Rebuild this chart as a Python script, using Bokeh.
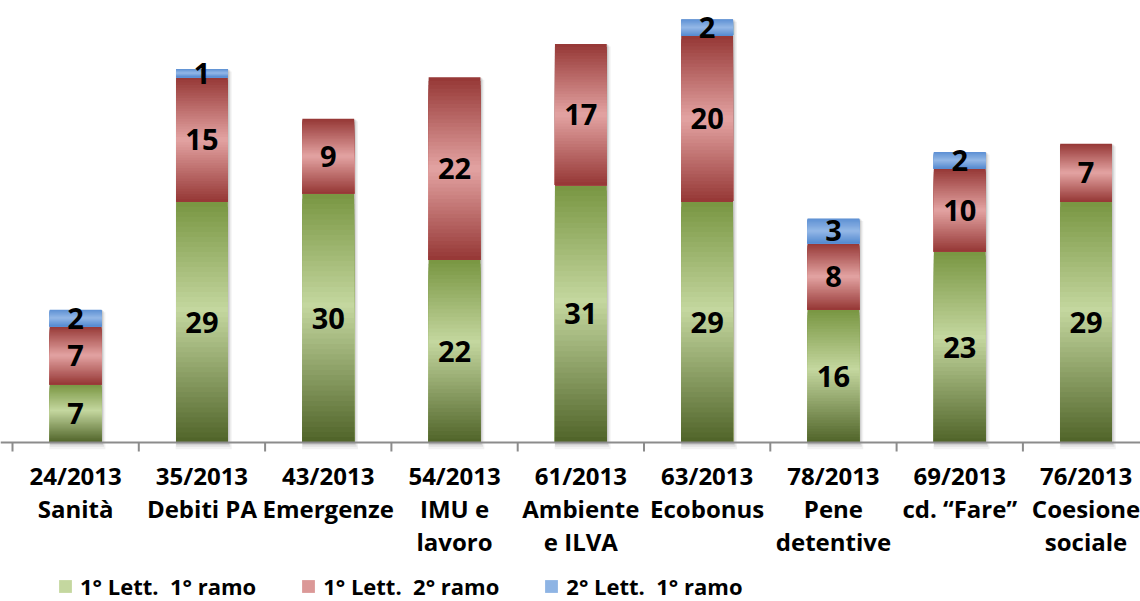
from bokeh.plotting import figure
from bokeh.models import Range1d, Legend, LegendItem
from bokeh.core.properties import value
from bokeh.embed import file_html
from bokeh.resources import INLINE

categories = ["24/2013\nSanità", "35/2013\nDebiti PA", "43/2013\nEmergenze",
              "54/2013\nIMU e\nlavoro", "61/2013\nAmbiente\ne ILVA", "63/2013\nEcobonus",
              "78/2013\nPene\ndetentive", "69/2013\ncd. \u201cFare\u201d", "76/2013\nCoesione\nsociale"]
lett1_ramo1 = [7, 29, 30, 22, 31, 29, 16, 23, 29]
lett1_ramo2 = [7, 15, 9, 22, 17, 20, 8, 10, 7]
lett2_ramo1 = [2, 1, 0, 0, 0, 2, 3, 2, 0]
series_names = ["1° Lett.  1° ramo", "1° Lett.  2° ramo", "2° Lett.  1° ramo"]

FONT = "Open Sans"
W, H = 1140, 601
PX_PER_UNIT = 8.3
AXIS_PX = 442   # distance from frame top to baseline
CAT_PX = 126.3
LEFT_OFF = 12

def hex2rgb(h):
    h = h.lstrip("#")
    return tuple(int(h[i:i + 2], 16) for i in (0, 2, 4))

def rgb2hex(c):
    return "#%02x%02x%02x" % tuple(int(round(v)) for v in c)

def grad(stops, t):
    for (t0, c0), (t1, c1) in zip(stops[:-1], stops[1:]):
        if t0 <= t <= t1:
            f = (t - t0) / (t1 - t0) if t1 > t0 else 0
            a, b = hex2rgb(c0), hex2rgb(c1)
            return rgb2hex([a[i] + (b[i] - a[i]) * f for i in range(3)])
    return stops[-1][1]

# gradient stops from top (0) to bottom (1) of each segment
styles = [
    [(0.0, "#789541"), (0.45, "#c4d79f"), (1.0, "#4f6328")],
    [(0.0, "#953735"), (0.5, "#e3a3a2"), (1.0, "#953735")],
    [(0.0, "#5c8fd3"), (0.5, "#94b8e6"), (1.0, "#5589d0")],
]

n = len(categories)
ymax = AXIS_PX / PX_PER_UNIT
ymin = -(H - AXIS_PX) / PX_PER_UNIT
xmin = -LEFT_OFF / CAT_PX
xmax = xmin + W / CAT_PX

p = figure(width=W, height=H, output_backend="svg", toolbar_location=None,
           x_range=Range1d(xmin, xmax), y_range=Range1d(ymin, ymax),
           min_border=0, outline_line_color=None)
p.axis.visible = False
p.grid.visible = False
p.background_fill_color = "white"
p.border_fill_color = "white"

xs = [i + 0.5 for i in range(n)]
bw = 0.41

series = [lett1_ramo1, lett1_ramo2, lett2_ramo1]
tot = [a + b + c for a, b, c in zip(*series)]

# soft shadows behind bars
for dx, dw, db, dt, al in [(0.014, 0.034, -0.8, -0.3, 0.05), (0.010, 0.020, -0.5, -0.15, 0.07),
                           (0.006, 0.010, -0.28, -0.05, 0.10)]:
    p.vbar(x=[x + dx for x in xs], width=bw + dw, bottom=[db] * n, top=[t + dt for t in tot],
           fill_color="#000000", fill_alpha=al, line_color=None)

bottoms = [0] * n
K = 48
legend_items = []
for si, vals in enumerate(series):
    leg_r = None
    alphas = [1.0 if v > 0 else 0.0 for v in vals]
    for k in range(K):
        t = (k + 0.5) / K
        col = grad(styles[si], t)
        tops = [b + v * (1 - k / K) for b, v in zip(bottoms, vals)]
        r = p.vbar(x=xs, width=bw, bottom=bottoms, top=tops, fill_color=col,
                   fill_alpha=alphas, line_color=None)
        if k == int(K * 0.45):
            leg_r = r
    lx, ly, lt = [], [], []
    for i, v in enumerate(vals):
        if v > 0:
            lx.append(xs[i])
            ly.append(bottoms[i] + v / 2)
            lt.append(str(v))
    p.text(x=lx, y=ly, text=lt, text_font=value(FONT), text_font_style="bold",
           text_font_size="29px", text_align="center", text_baseline="middle",
           text_color="black")
    legend_items.append(LegendItem(label=series_names[si], renderers=[leg_r]))
    bottoms = [b + v for b, v in zip(bottoms, vals)]

# baseline and ticks
p.segment(x0=[xmin], y0=[0], x1=[xmax], y1=[0], line_color="#8c8c8c", line_width=2)
bx = list(range(n + 1))
p.segment(x0=bx, y0=[0] * len(bx), x1=bx, y1=[-9 / PX_PER_UNIT] * len(bx),
          line_color="#8c8c8c", line_width=2)

# category labels
p.text(x=xs, y=[-16 / PX_PER_UNIT] * n, text=categories, text_font=value(FONT),
       text_font_style="bold", text_font_size="24px", text_align="center",
       text_baseline="top", text_line_height=1.01, text_color="black")

legend = Legend(items=legend_items, orientation="horizontal", location=(57, 0),
                glyph_width=16, glyph_height=16, label_standoff=7, spacing=44,
                padding=0, margin=0, border_line_color=None, background_fill_alpha=0,
                label_text_font=FONT, label_text_font_style="bold",
                label_text_font_size="22px", label_text_color="black")
p.add_layout(legend)

open("out.html", "w").write(file_html(p, INLINE))
